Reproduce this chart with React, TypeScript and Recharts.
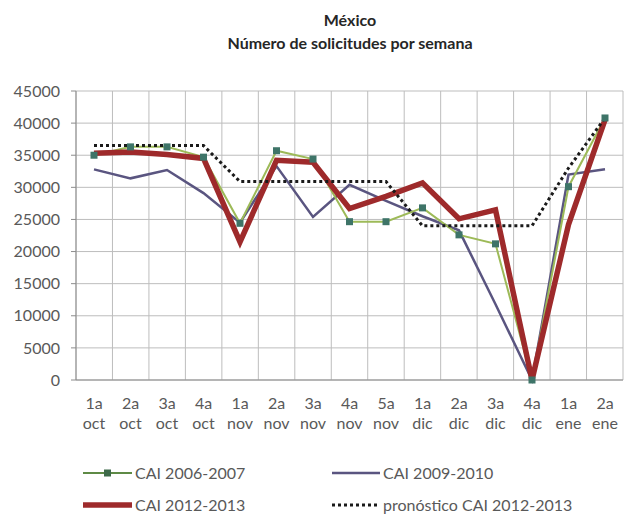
import { CartesianGrid, Legend, Line, LineChart, XAxis, YAxis } from "recharts";

const weeks = [
  "1a oct", "2a oct", "3a oct", "4a oct",
  "1a nov", "2a nov", "3a nov", "4a nov", "5a nov",
  "1a dic", "2a dic", "3a dic", "4a dic",
  "1a ene", "2a ene",
];

const cai0607 = [35000, 36300, 36300, 34700, 24400, 35700, 34400, 24650, 24650, 26800, 22600, 21200, 0, 30100, 40800];
const cai0910 = [32800, 31400, 32700, 29100, 24500, 33300, 25400, 30400, 27900, 25500, 23300, 11800, 0, 32000, 32800];
const cai1213 = [35300, 35500, 35100, 34500, 21500, 34200, 33900, 26700, 28600, 30700, 25100, 26500, 0, 24200, 40500];
const pronostico = [36500, 36500, 36500, 36500, 30900, 30900, 30900, 30900, 30900, 24000, 24000, 24000, 24000, 33000, 40800];

const yTicks = [0, 5000, 10000, 15000, 20000, 25000, 30000, 35000, 40000, 45000];

const data = weeks.map((w, i) => ({
  week: w,
  a: cai0607[i],
  b: cai0910[i],
  c: cai1213[i],
  p: pronostico[i],
}));

const FONT = "Lato, 'Open Sans', sans-serif";
const TXT = "#595959";

const XTick = ({ x, y, payload }: any) => {
  const [n, m] = String(payload.value).split(" ");
  return (
    <text x={x} y={y} textAnchor="middle" fill={TXT} fontSize={16} fontFamily={FONT}>
      <tspan x={x} dy={21}>{n}</tspan>
      <tspan x={x} dy={20}>{m}</tspan>
    </text>
  );
};

const GreenDot = (p: any) => (
  <rect key={p.index} x={p.cx - 3.5} y={p.cy - 3.5} width={7} height={7} fill="#3E7468" />
);

const LegendBox = () => (
  <svg width={642} height={70} style={{ display: "block" }}>
    <g fontFamily={FONT} fontSize={16} fill={TXT}>
      <line x1={83} x2={132} y1={23} y2={23} stroke="#5E8A45" strokeWidth={2} />
      <rect x={104} y={19.5} width={7} height={7} fill="#3E6A4A" />
      <text x={135} y={29}>CAI 2006-2007</text>
      <line x1={332} x2={380} y1={23} y2={23} stroke="#5A5580" strokeWidth={2.5} />
      <text x={383} y={29}>CAI 2009-2010</text>
      <line x1={83} x2={132} y1={55} y2={55} stroke="#9E2A2B" strokeWidth={5.5} />
      <text x={135} y={61}>CAI 2012-2013</text>
      <line x1={332} x2={380} y1={55} y2={55} stroke="#1a1a1a" strokeWidth={3} strokeDasharray="3 3" />
      <text x={383} y={61}>pronóstico CAI 2012-2013</text>
    </g>
  </svg>
);

export default function App() {
  return (
    <div style={{ position: "absolute", left: 0, top: 0, width: 642, height: 529, background: "#fff" }}>
      <div
        style={{
          position: "absolute",
          left: 50,
          top: 8,
          width: 600,
          textAlign: "center",
          fontFamily: FONT,
          fontWeight: 700,
          fontSize: 16,
          lineHeight: "23px",
          color: "#262626",
          zIndex: 2,
        }}
      >
        México
        <br />
        Número de solicitudes por semana
      </div>
      <LineChart width={642} height={529} data={data} margin={{ top: 91, right: 19, left: 16, bottom: 99 }}>
        <CartesianGrid
          stroke="#BDBDBD"
          verticalCoordinatesGenerator={({ offset }: any) =>
            Array.from({ length: weeks.length + 1 }, (_, i) => offset.left + (i * offset.width) / weeks.length)
          }
        />
        <XAxis
          dataKey="week"
          interval={0}
          padding={{ left: 18, right: 18 }}
          height={50}
          tick={<XTick />}
          tickLine={false}
          axisLine={{ stroke: "#8C8C8C" }}
        />
        <YAxis
          width={60}
          domain={[0, 45000]}
          ticks={yTicks}
          interval={0}
          tickSize={5}
          tickMargin={11}
          tickLine={{ stroke: "#8C8C8C" }}
          axisLine={{ stroke: "#8C8C8C" }}
          tick={{ fill: TXT, fontSize: 16, fontFamily: FONT }}
        />
        <Line dataKey="b" stroke="#5A5580" strokeWidth={2.5} dot={false} isAnimationActive={false} />
        <Line dataKey="a" stroke="#9DBA58" strokeWidth={2} dot={GreenDot} isAnimationActive={false} />
        <Line dataKey="c" stroke="#9E2A2B" strokeWidth={5.5} dot={false} isAnimationActive={false} />
        <Line
          dataKey="p"
          stroke="#1a1a1a"
          strokeWidth={3}
          strokeDasharray="3 3"
          dot={false}
          isAnimationActive={false}
        />
        <Legend
          layout="horizontal"
          verticalAlign="middle"
          align="center"
          content={<LegendBox />}
          wrapperStyle={{ position: "absolute", left: 0, top: 450, width: 642 }}
        />
      </LineChart>
    </div>
  );
}
